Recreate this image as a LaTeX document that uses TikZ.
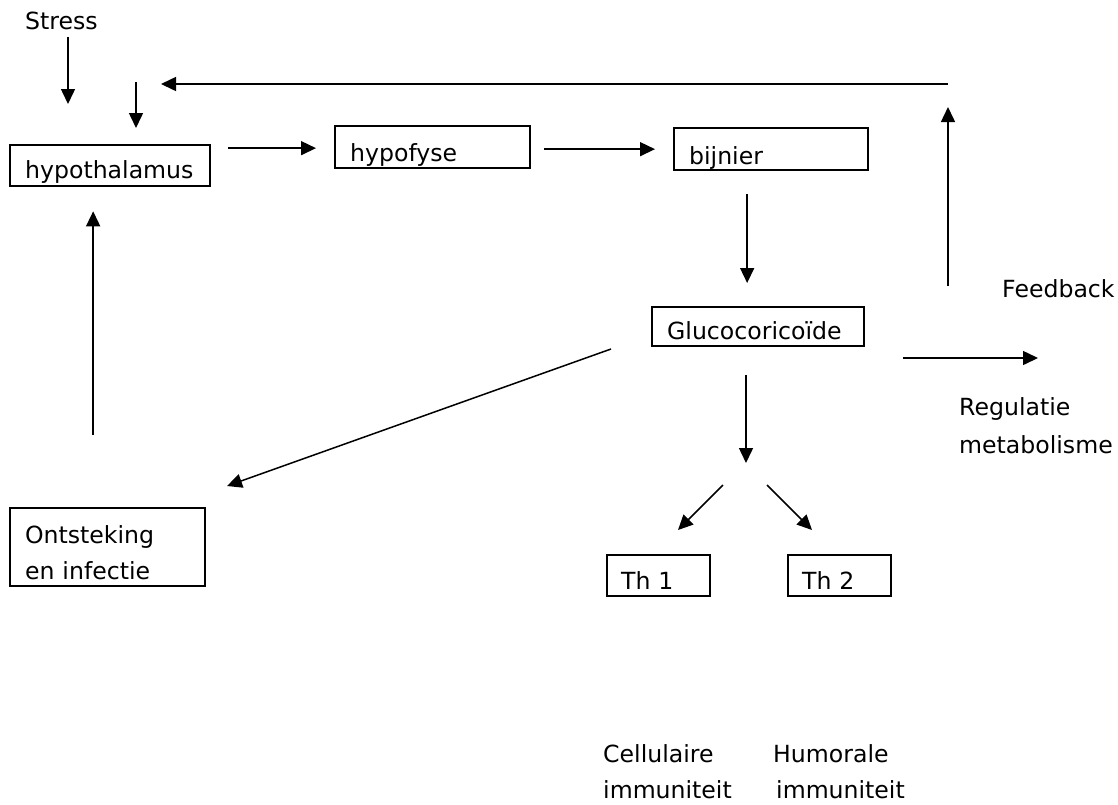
\documentclass[tikz,border=0pt]{standalone}
\usepackage{fontspec}
\setmainfont{DejaVu Sans}
\usetikzlibrary{arrows.meta}

\tikzset{
  blok/.style={draw, line width=2.3pt, anchor=north west, align=left, inner xsep=15pt, inner ysep=0pt},
  tekst/.style={inner sep=0pt, align=left, anchor=base west},
  pijl/.style={line width=1.5pt, -{Triangle[length=15pt,width=14pt]}}
}

\begin{document}
\begin{tikzpicture}[x=1pt, y=-1pt, font=\fontsize{23.6}{36}\selectfont]
\useasboundingbox (0,0) rectangle (1118,804);

% hoofdketen
\node[blok, text width=170pt, text height=33pt, text depth=8pt] (hypothalamus) at (9,144) {hypothalamus};
\node[blok, text width=165pt, text height=35pt, text depth=7pt] (hypofyse) at (334,125) {hypofyse};
\node[blok, text width=164pt, text height=36pt, text depth=6pt] (bijnier) at (673,127) {bijnier};
\node[blok, text width=182pt, text height=32pt, text depth=7pt] (glucocorticoide) at (651,306) {Glucocoricoïde};
\node[blok, text width=165pt, text height=35pt, text depth=43pt] (ontsteking) at (9,507) {Ontsteking\\en infectie};
\node[blok, inner xsep=14pt, text width=75pt, text height=34pt, text depth=7pt] (th1) at (606,554) {Th 1};
\node[blok, inner xsep=14pt, text width=75pt, text height=34pt, text depth=7pt] (th2) at (787,554) {Th 2};

% losse teksten
\node[tekst] (stress) at (25,29) {Stress};
\node[tekst] (feedback) at (1002,297) {Feedback};
\node[tekst, font=\fontsize{23.6}{38}\selectfont] (regulatie) at (959,453) {Regulatie\\metabolisme};
\node[tekst] (cellulair) at (603,798) {Cellulaire\\immuniteit};
\node[tekst] (humoraal) at (773,798) {Humorale\\\hspace*{3pt}immuniteit};

% vrije eindpunten
\coordinate (stresspunt) at (68,104);
\coordinate (invoer) at (136,82);
\coordinate (fbstart) at (948,286);
\coordinate (fbhoek) at (948,84);
\coordinate (fbeind) at (161,84);
\coordinate (splitsing) at (746,463);
\coordinate (links) at (723,485);
\coordinate (th1punt) at (678,530);
\coordinate (rechts) at (767,485);
\coordinate (th2punt) at (812,530);
\coordinate (diagstart) at (611,349);
\coordinate (ontstpunt) at (227,486);
\coordinate (regstart) at (903,358);
\coordinate (regeind) at (1038,358);

\draw[pijl, shorten <=7pt] (stress.south -| stresspunt) -- (stresspunt);
\draw[pijl, shorten >=16pt] (invoer) -- (invoer |- hypothalamus.north);
\draw[pijl, shorten <=17pt, shorten >=18pt] ([yshift=-1pt]hypothalamus.east |- hypofyse.west) -- ([yshift=-1pt]hypofyse.west);
\draw[pijl, shorten <=13pt, shorten >=18pt] (hypofyse.east |- bijnier.west) -- (bijnier.west);
\draw[pijl, shorten <=23pt, shorten >=23pt] ([xshift=-24pt]bijnier.south) -- ([xshift=-24pt]bijnier.south |- glucocorticoide.north);
\draw[pijl, shorten <=28pt] (glucocorticoide.south -| splitsing) -- (splitsing);
\draw[pijl] (links) -- (th1punt);
\draw[pijl] (rechts) -- (th2punt);
\draw[pijl] (diagstart) -- (ontstpunt);
\draw[pijl] (regstart) -- (regeind);
\draw[pijl, shorten <=72pt, shorten >=24pt] ([xshift=-14.5pt]ontsteking.north) -- ([xshift=-14.5pt]ontsteking.north |- hypothalamus.south);

% terugkoppeling
\draw[pijl, shorten >=23pt] (fbstart) -- (fbhoek);
\draw[pijl] (fbhoek) -- (fbeind);
\end{tikzpicture}
\end{document}
